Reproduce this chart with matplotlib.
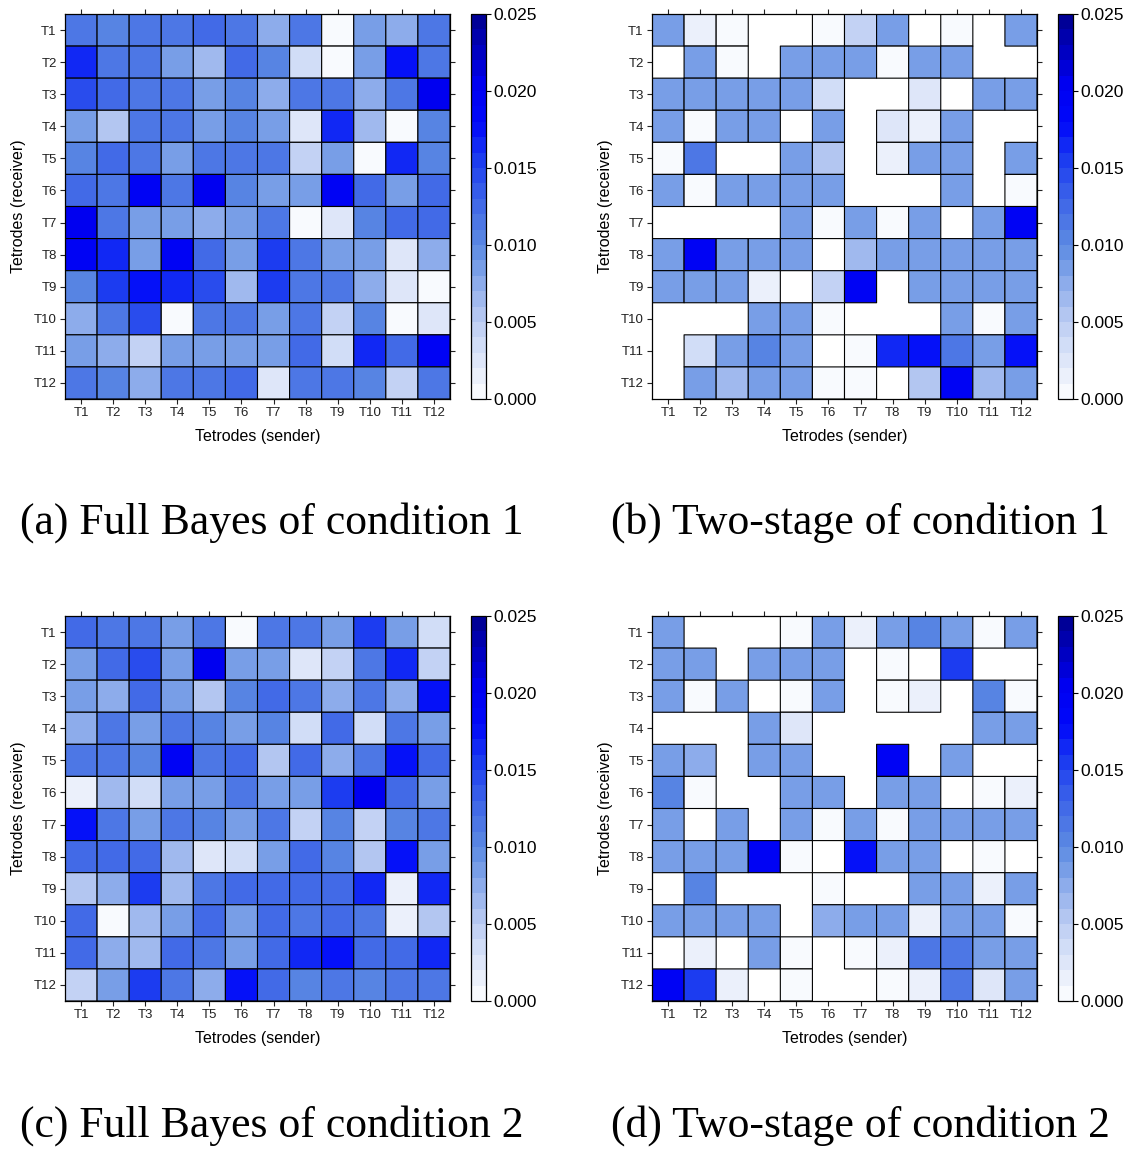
"""Four tetrode connectivity heatmaps (full Bayes vs two-stage, two conditions)."""
import numpy as np
import matplotlib
matplotlib.use("Agg")
import matplotlib.pyplot as plt
from matplotlib.colors import LinearSegmentedColormap, ListedColormap, BoundaryNorm

nan = np.nan

TETRODES = [f"T{i}" for i in range(1, 13)]

# rows = receiver T1..T12, columns = sender T1..T12
full_bayes_cond1 = [
    [0.011, 0.010, 0.011, 0.011, 0.012, 0.011, 0.007, 0.011, 0.000, 0.009, 0.007, 0.011],
    [0.016, 0.011, 0.011, 0.009, 0.006, 0.013, 0.010, 0.003, 0.000, 0.009, 0.018, 0.011],
    [0.014, 0.013, 0.011, 0.011, 0.009, 0.010, 0.007, 0.011, 0.011, 0.007, 0.011, 0.020],
    [0.009, 0.005, 0.011, 0.011, 0.009, 0.010, 0.009, 0.002, 0.016, 0.006, 0.000, 0.010],
    [0.010, 0.013, 0.011, 0.008, 0.011, 0.011, 0.011, 0.004, 0.009, 0.000, 0.016, 0.010],
    [0.013, 0.011, 0.019, 0.011, 0.020, 0.010, 0.009, 0.009, 0.019, 0.012, 0.009, 0.012],
    [0.020, 0.011, 0.008, 0.008, 0.007, 0.008, 0.011, 0.000, 0.002, 0.010, 0.013, 0.013],
    [0.019, 0.016, 0.008, 0.019, 0.013, 0.009, 0.015, 0.011, 0.009, 0.008, 0.002, 0.007],
    [0.010, 0.015, 0.018, 0.016, 0.014, 0.006, 0.015, 0.011, 0.011, 0.007, 0.002, 0.000],
    [0.007, 0.011, 0.014, 0.000, 0.011, 0.011, 0.008, 0.011, 0.004, 0.010, 0.000, 0.002],
    [0.008, 0.007, 0.004, 0.009, 0.009, 0.008, 0.008, 0.012, 0.003, 0.016, 0.012, 0.019],
    [0.011, 0.010, 0.007, 0.011, 0.011, 0.012, 0.002, 0.011, 0.011, 0.010, 0.004, 0.011],
]

two_stage_cond1 = [
    [0.008, 0.001, 0.0005, nan, nan, 0.0005, 0.004, 0.009, nan, 0.0005, nan, 0.008],
    [nan, 0.009, 0.0005, nan, 0.009, 0.009, 0.009, 0.0005, 0.008, 0.008, nan, nan],
    [0.009, 0.009, 0.008, 0.009, 0.008, 0.003, nan, nan, 0.002, nan, 0.008, 0.009],
    [0.008, 0.0005, 0.009, 0.009, nan, 0.009, nan, 0.002, 0.001, 0.009, nan, nan],
    [0.0005, 0.011, nan, nan, 0.008, 0.005, nan, 0.001, 0.009, 0.008, nan, 0.009],
    [0.009, 0.0005, 0.009, 0.009, 0.008, 0.009, nan, nan, nan, 0.008, nan, 0.0005],
    [nan, nan, nan, nan, 0.008, 0.0005, 0.009, 0.0005, 0.008, nan, 0.008, 0.019],
    [0.009, 0.019, 0.008, 0.009, 0.009, nan, 0.006, 0.008, 0.008, 0.008, 0.008, 0.008],
    [0.008, 0.009, 0.008, 0.001, nan, 0.004, 0.019, nan, 0.008, 0.008, 0.009, 0.008],
    [nan, nan, nan, 0.009, 0.008, 0.0005, nan, nan, nan, 0.008, 0.0005, 0.008],
    [nan, 0.003, 0.009, 0.010, 0.008, nan, 0.0005, 0.016, 0.018, 0.011, 0.008, 0.018],
    [nan, 0.009, 0.006, 0.008, 0.008, 0.0005, 0.0005, nan, 0.005, 0.019, 0.006, 0.009],
]

full_bayes_cond2 = [
    [0.012, 0.011, 0.011, 0.009, 0.011, 0.000, 0.011, 0.011, 0.009, 0.015, 0.008, 0.003],
    [0.008, 0.012, 0.014, 0.009, 0.020, 0.009, 0.009, 0.002, 0.004, 0.011, 0.016, 0.004],
    [0.009, 0.007, 0.012, 0.009, 0.005, 0.010, 0.012, 0.011, 0.007, 0.011, 0.007, 0.018],
    [0.007, 0.011, 0.009, 0.011, 0.010, 0.008, 0.010, 0.003, 0.012, 0.003, 0.011, 0.009],
    [0.011, 0.011, 0.010, 0.019, 0.011, 0.012, 0.005, 0.013, 0.007, 0.011, 0.017, 0.013],
    [0.001, 0.006, 0.003, 0.008, 0.009, 0.011, 0.009, 0.009, 0.015, 0.020, 0.013, 0.009],
    [0.018, 0.011, 0.009, 0.011, 0.010, 0.009, 0.011, 0.004, 0.010, 0.004, 0.010, 0.011],
    [0.012, 0.012, 0.013, 0.006, 0.002, 0.003, 0.009, 0.012, 0.010, 0.005, 0.018, 0.009],
    [0.005, 0.007, 0.015, 0.006, 0.011, 0.012, 0.012, 0.012, 0.012, 0.016, 0.001, 0.016],
    [0.012, 0.000, 0.006, 0.008, 0.012, 0.009, 0.012, 0.011, 0.012, 0.011, 0.001, 0.005],
    [0.012, 0.007, 0.006, 0.012, 0.011, 0.008, 0.012, 0.016, 0.017, 0.012, 0.013, 0.016],
    [0.004, 0.009, 0.015, 0.011, 0.007, 0.018, 0.012, 0.010, 0.011, 0.010, 0.011, 0.011],
]

two_stage_cond2 = [
    [0.008, nan, nan, nan, 0.0005, 0.008, 0.001, 0.008, 0.010, 0.008, 0.0005, 0.009],
    [0.008, 0.008, nan, 0.008, 0.008, 0.008, nan, 0.0005, nan, 0.015, nan, nan],
    [0.008, 0.0005, 0.008, nan, 0.0005, 0.009, nan, 0.0005, 0.001, nan, 0.010, 0.0005],
    [nan, nan, nan, 0.008, 0.002, nan, nan, nan, nan, nan, 0.009, 0.009],
    [0.008, 0.007, nan, 0.008, 0.009, nan, nan, 0.019, nan, 0.008, nan, nan],
    [0.010, 0.0005, nan, nan, 0.008, 0.008, nan, 0.008, 0.008, nan, 0.0005, 0.001],
    [0.008, nan, 0.008, nan, 0.008, 0.0005, 0.008, 0.0005, 0.008, 0.008, 0.008, 0.008],
    [0.008, 0.008, 0.008, 0.019, 0.0005, nan, 0.017, 0.008, 0.008, nan, 0.0005, nan],
    [nan, 0.010, nan, nan, nan, 0.0005, nan, nan, 0.009, 0.008, 0.001, 0.008],
    [0.008, 0.008, 0.008, 0.009, nan, 0.007, 0.008, 0.009, 0.001, 0.008, 0.008, 0.0005],
    [nan, 0.001, nan, 0.008, 0.0005, nan, 0.0005, 0.001, 0.011, 0.011, 0.009, 0.009],
    [0.019, 0.015, 0.001, nan, 0.0005, nan, nan, 0.0005, 0.001, 0.011, 0.002, 0.008],
]

CAPTIONS = [
    "(a) Full Bayes of condition 1",
    "(b) Two-stage of condition 1",
    "(c) Full Bayes of condition 2",
    "(d) Two-stage of condition 2",
]
CBAR_TICKS = [0.000, 0.005, 0.010, 0.015, 0.020, 0.025]

# white -> cornflower -> pure blue -> navy, cut into 25 bands like the lattice key
_base = LinearSegmentedColormap.from_list("wb", [
    (0.00, "#ffffff"),
    (0.20, "#bccdf3"),
    (0.40, "#5c8ae2"),
    (0.52, "#3d64e8"),
    (0.62, "#1c3cf0"),
    (0.72, "#0008fa"),
    (0.82, "#0000f0"),
    (1.00, "#00008c"),
])
N_LEVELS = 25
CMAP = ListedColormap(_base((np.arange(N_LEVELS) + 0.5) / N_LEVELS))
NORM = BoundaryNorm(np.linspace(0, 0.025, N_LEVELS + 1), N_LEVELS)

W, H = 1132, 1157
# pixel boxes (left, top) of each heatmap; cells are ~32 px
PANELS = [(65, 14), (652, 14), (65, 616), (652, 616)]
SIZE = 385
CBAR_DX, CBAR_W = 406, 15
CAPTION_POS = [(272, 523), (860, 523), (272, 1126), (860, 1126)]

plt.rcParams["font.family"] = ["Liberation Sans", "DejaVu Sans"]


def px_box(left, top, width, height):
    return [left / W, 1 - (top + height) / H, width / W, height / H]


def draw_panel(fig, data, left, top):
    ax = fig.add_axes(px_box(left, top, SIZE, SIZE))
    values = np.ma.masked_invalid(np.array(data, dtype=float))
    # pcolor skips masked cells, so empty cells get no outline
    mesh = ax.pcolor(values, cmap=CMAP, norm=NORM, edgecolors="black", linewidth=0.8)
    ax.set_xlim(0, 12)
    ax.set_ylim(12, 0)
    ticks = np.arange(12) + 0.5
    ax.set_xticks(ticks)
    ax.set_xticklabels(TETRODES)
    ax.set_yticks(ticks)
    ax.set_yticklabels(TETRODES)
    ax.tick_params(direction="out", length=3.5, width=0.8, pad=2.5, labelsize=9.5,
                   top=True, right=True, colors="#222222")
    for spine in ax.spines.values():
        spine.set_linewidth(0.9)

    ax.set_xlabel("Tetrodes (sender)", fontsize=11.5)
    ax.set_ylabel("Tetrodes (receiver)", fontsize=11.5)
    ax.xaxis.set_label_coords(0.5, -0.098)
    ax.yaxis.set_label_coords(-0.12, 0.5)
    ax.xaxis.label.set_va("center")
    ax.yaxis.label.set_va("center")

    cax = fig.add_axes(px_box(left + CBAR_DX, top, CBAR_W, SIZE))
    cbar = fig.colorbar(mesh, cax=cax, ticks=CBAR_TICKS, format="%.3f")
    cbar.outline.set_linewidth(0.9)
    cax.minorticks_off()
    cax.tick_params(direction="out", length=3.5, width=0.8, pad=2, labelsize=12.5)
    return ax


def main():
    fig = plt.figure(figsize=(W / 100, H / 100), dpi=100, facecolor="white")
    matrices = [full_bayes_cond1, two_stage_cond1, full_bayes_cond2, two_stage_cond2]

    for data, (left, top) in zip(matrices, PANELS):
        draw_panel(fig, data, left, top)

    for text, (cx, cy) in zip(CAPTIONS, CAPTION_POS):
        fig.text(cx / W, 1 - cy / H, text, ha="center", va="center", fontsize=31.5,
                 family=["Liberation Serif", "DejaVu Serif"])

    fig.savefig("out.png", dpi=100, facecolor="white")
    plt.close(fig)


main()
